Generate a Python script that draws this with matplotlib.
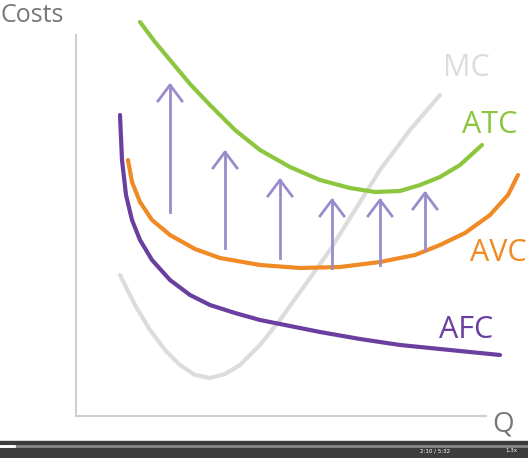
import matplotlib
matplotlib.use("Agg")
import matplotlib.pyplot as plt
from matplotlib.patches import Rectangle

# curve points (pixel coords, y downward)
afc_x = [120, 122, 126, 132, 140, 152, 170, 190, 210, 235, 260, 290, 320, 360, 400, 450, 500]
afc_y = [115, 160, 195, 220, 240, 260, 280, 295, 305, 313, 320, 326, 332, 339, 345, 350, 355]
avc_x = [128, 132, 140, 152, 170, 195, 220, 260, 300, 340, 380, 415, 440, 465, 490, 508, 518]
avc_y = [160, 182, 202, 220, 235, 249, 258, 265, 268, 267, 262, 255, 245, 233, 215, 195, 175]
atc_x = [140, 155, 170, 190, 210, 235, 260, 290, 320, 350, 375, 400, 420, 440, 460, 482]
atc_y = [22, 42, 60, 84, 105, 130, 150, 167, 180, 188, 192, 191, 185, 177, 165, 145]
mc_x = [120, 135, 150, 165, 180, 195, 210, 225, 240, 260, 280, 305, 330, 355, 380, 410, 440]
mc_y = [275, 305, 330, 350, 365, 375, 378, 374, 365, 345, 320, 285, 250, 210, 170, 130, 95]

arrow_x = [170, 225, 280, 332, 380, 425]
arrow_bottom = [212, 248, 258, 268, 265, 250]
arrow_top = [85, 152, 180, 200, 200, 193]

labels = ["MC", "ATC", "AVC", "AFC"]
label_pos = [(466, 68), (490, 125), (498, 253), (466, 330)]

purple = "#6b3fa0"
orange = "#f08a24"
green = "#8cc63f"
gray = "#dcdcdc"
lav = "#9a8ccc"

fig = plt.figure(figsize=(5.28, 4.58), dpi=100)
ax = fig.add_axes([0, 0, 1, 1])
ax.set_xlim(0, 528)
ax.set_ylim(458, 0)
ax.axis("off")

# axes of the diagram
ax.plot([76, 76], [35, 416], color="#cfcfcf", lw=1.5)
ax.plot([76, 486], [416, 416], color="#cfcfcf", lw=1.5)
ax.text(0, 15, "Costs", fontsize=18, color="#777777", va="center", family="Open Sans")
ax.text(492, 425, "Q", fontsize=20, color="#777777", va="center", family="Open Sans")

ax.plot(mc_x, mc_y, color=gray, lw=3, solid_capstyle="round")
ax.plot(atc_x, atc_y, color=green, lw=3, solid_capstyle="round")
ax.plot(avc_x, avc_y, color=orange, lw=3, solid_capstyle="round")
ax.plot(afc_x, afc_y, color=purple, lw=3, solid_capstyle="round")

for x, b, t in zip(arrow_x, arrow_bottom, arrow_top):
    ax.plot([x, x], [b, t], color=lav, lw=2)
    ax.plot([x - 12, x, x + 12], [t + 16, t, t + 16], color=lav, lw=2)

colors = [gray, green, orange, purple]
for lab, (x, y), c in zip(labels, label_pos, colors):
    ax.text(x, y, lab, fontsize=22, color=c, va="center", ha="center", family="Open Sans")

# video player bar
ax.add_patch(Rectangle((0, 441), 528, 17, color="#3c3c3c"))
ax.plot([0, 528], [446, 446], color="#888888", lw=2)
ax.plot([0, 14], [446, 446], color="white", lw=2)
ax.text(420, 451, "2:10 / 5:32", fontsize=4, color="white", va="center")
ax.text(505, 451, "1.3x", fontsize=4, color="white", va="center")

fig.savefig("out.png", dpi=100)
